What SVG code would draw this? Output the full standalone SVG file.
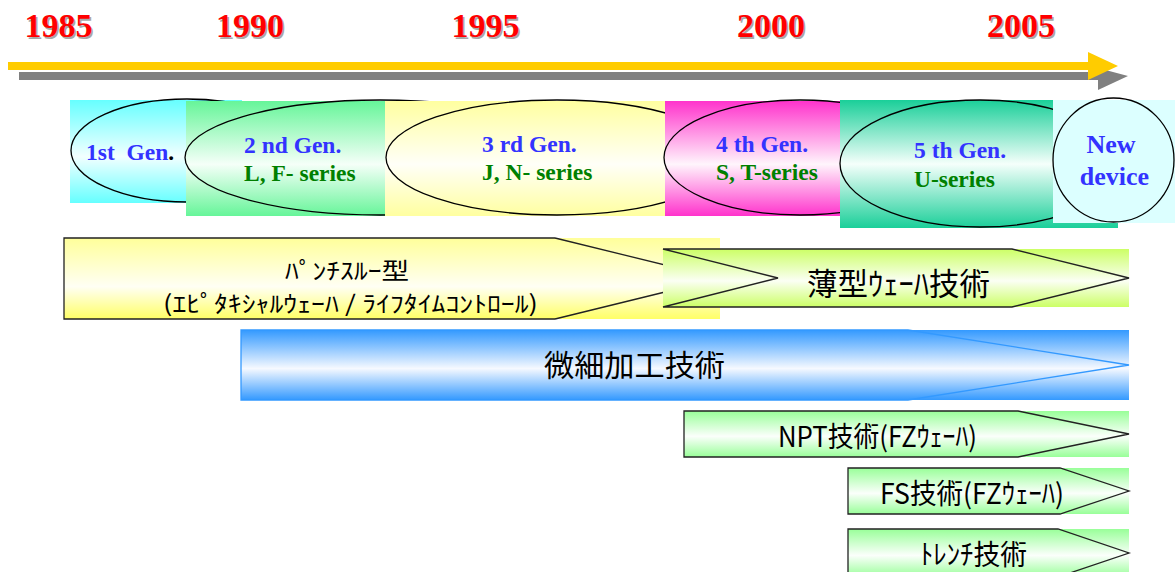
<svg xmlns="http://www.w3.org/2000/svg" width="1175" height="572" viewBox="0 0 1175 572">
<defs>
  <linearGradient id="gCyan" x1="0" y1="0" x2="0" y2="1"><stop offset="0" stop-color="#66ffff"/><stop offset="0.55" stop-color="#f2ffff"/><stop offset="1" stop-color="#66ffff"/></linearGradient>
  <linearGradient id="gGreen" x1="0" y1="0" x2="0" y2="1"><stop offset="0" stop-color="#66f599"/><stop offset="0.55" stop-color="#f5fff8"/><stop offset="1" stop-color="#66f599"/></linearGradient>
  <linearGradient id="gYel" x1="0" y1="0" x2="0" y2="1"><stop offset="0" stop-color="#ffffa0"/><stop offset="0.55" stop-color="#fffff8"/><stop offset="1" stop-color="#ffffa0"/></linearGradient>
  <linearGradient id="gMag" x1="0" y1="0" x2="0" y2="1"><stop offset="0" stop-color="#ff33cc"/><stop offset="0.55" stop-color="#fff5fc"/><stop offset="1" stop-color="#ff33cc"/></linearGradient>
  <linearGradient id="gTeal" x1="0" y1="0" x2="0" y2="1"><stop offset="0" stop-color="#1acf99"/><stop offset="0.5" stop-color="#f5fffb"/><stop offset="1" stop-color="#1acf99"/></linearGradient>
  <linearGradient id="gBarY" x1="0" y1="0" x2="0" y2="1"><stop offset="0" stop-color="#ffff9a"/><stop offset="0.6" stop-color="#fffff4"/><stop offset="1" stop-color="#ffff66"/></linearGradient>
  <linearGradient id="gBarLG" x1="0" y1="0" x2="0" y2="1"><stop offset="0" stop-color="#ccff66"/><stop offset="0.55" stop-color="#fbfff4"/><stop offset="1" stop-color="#ccff66"/></linearGradient>
  <linearGradient id="gBarB" x1="0" y1="0" x2="0" y2="1"><stop offset="0" stop-color="#3399ff"/><stop offset="0.55" stop-color="#f6f9ff"/><stop offset="1" stop-color="#3399ff"/></linearGradient>
  <linearGradient id="gBarG" x1="0" y1="0" x2="0" y2="1"><stop offset="0" stop-color="#99ff99"/><stop offset="0.55" stop-color="#fbfffb"/><stop offset="1" stop-color="#99ff99"/></linearGradient>
</defs>
<style>
  .yr{font-family:"Liberation Serif","Times New Roman",serif;font-weight:bold;font-size:34px;text-anchor:middle}
  .yrs{fill:#a8a8a8}
  .yrt{fill:#ff0000}
  .gen{font-family:"Liberation Serif","Times New Roman",serif;font-weight:bold;font-size:23.5px;white-space:pre}
  .nd{font-family:"Liberation Serif","Times New Roman",serif;font-weight:bold;font-size:26px;text-anchor:middle;fill:#3333ff}
  .blue{fill:#3333ff}
  .grn{fill:#008000}
  .ell{fill:none;stroke:#000;stroke-width:1.3}
  .jp{font-family:"Noto Sans CJK JP","Noto Sans CJK SC",sans-serif;text-anchor:middle;fill:#000}
  .ol{fill:none;stroke:#222;stroke-width:1.3}
  .olb{fill:none;stroke:#3399ff;stroke-width:1.3}
</style>

<g id="years">
  <text class="yr yrs" x="60" y="39">1985</text><text class="yr yrt" x="58.5" y="37">1985</text>
  <text class="yr yrs" x="251.5" y="39">1990</text><text class="yr yrt" x="250" y="37">1990</text>
  <text class="yr yrs" x="487" y="39">1995</text><text class="yr yrt" x="485.5" y="37">1995</text>
  <text class="yr yrs" x="772.5" y="39">2000</text><text class="yr yrt" x="771" y="37">2000</text>
  <text class="yr yrs" x="1022.5" y="39">2005</text><text class="yr yrt" x="1021" y="37">2005</text>
</g>

<g id="timeline">
  <rect x="19" y="72" width="1081" height="8" fill="#808080"/>
  <polygon points="1098,68 1128,76 1098,90" fill="#808080"/>
  <rect x="8" y="62" width="1082" height="8" fill="#ffcc00"/>
  <polygon points="1088,52 1118,66 1088,80" fill="#ffcc00"/>
</g>

<g id="gen1">
  <rect x="70" y="100" width="172" height="103" fill="url(#gCyan)"/>
  <ellipse class="ell" cx="187" cy="150.5" rx="116" ry="51.5"/>
  <text class="gen" x="86" y="160" xml:space="preserve"><tspan class="blue">1st  Gen</tspan><tspan fill="#000">.</tspan></text>
</g>

<g id="gen2">
  <rect x="186" y="101" width="199" height="115" fill="url(#gGreen)"/>
  <ellipse class="ell" cx="380" cy="157.5" rx="195" ry="57.5"/>
  <text class="gen blue" x="244" y="153">2 nd Gen.</text>
  <text class="gen grn" x="244" y="181">L, F- series</text>
</g>

<g id="gen3">
  <rect x="385" y="101" width="280" height="115" fill="url(#gYel)"/>
  <ellipse class="ell" cx="557" cy="157.5" rx="171" ry="57.5"/>
  <text class="gen blue" x="482" y="152">3 rd Gen.</text>
  <text class="gen grn" x="482" y="180">J, N- series</text>
</g>

<g id="gen4">
  <rect x="665" y="101" width="175" height="115" fill="url(#gMag)"/>
  <ellipse class="ell" cx="800" cy="157.5" rx="136" ry="57.5"/>
  <text class="gen blue" x="716" y="152">4 th Gen.</text>
  <text class="gen grn" x="716" y="180">S, T-series</text>
</g>

<g id="gen5">
  <rect x="840" y="100" width="278" height="128" fill="url(#gTeal)"/>
  <ellipse class="ell" cx="980" cy="163.5" rx="140" ry="63.5"/>
  <text class="gen blue" x="914" y="158">5 th Gen.</text>
  <text class="gen grn" x="914" y="187">U-series</text>
</g>

<g id="newdevice">
  <rect x="1053" y="100" width="122" height="123" fill="#dcffff"/>
  <ellipse class="ell" cx="1113.5" cy="160" rx="60.5" ry="62"/>
  <text class="nd" x="1111" y="153">New</text>
  <text class="nd" x="1114.5" y="185">device</text>
</g>

<g id="punchthrough">
  <rect x="64" y="238" width="656" height="81" fill="url(#gBarY)"/>
  <polyline class="ol" points="555,238 64,238 64,319 555,319"/>
  <polyline class="ol" points="555,238 720,278.5 555,319"/>
  <text class="jp" x="347" y="278.5" font-size="23" textLength="124" lengthAdjust="spacingAndGlyphs">ﾊﾟﾝﾁｽﾙｰ型</text>
  <text class="jp" x="350.5" y="312" font-size="23" textLength="375" lengthAdjust="spacingAndGlyphs">(ｴﾋﾟﾀｷｼｬﾙｳｪｰﾊ / ﾗｲﾌﾀｲﾑｺﾝﾄﾛｰﾙ)</text>
</g>

<g id="thinwafer">
  <rect x="663" y="249" width="466" height="58" fill="url(#gBarLG)"/>
  <polygon class="ol" points="663,249 1012,249 1129,278 1012,307 663,307 778,278"/>
  <text class="jp" x="898.5" y="295" font-size="31" textLength="183" lengthAdjust="spacingAndGlyphs">薄型ｳｪｰﾊ技術</text>
</g>

<g id="microfab">
  <rect x="241" y="330" width="888" height="70" fill="url(#gBarB)"/>
  <polygon class="olb" points="241,330 908,330 1129,365 908,400 241,400"/>
  <text class="jp" x="634.5" y="376" font-size="30" textLength="181" lengthAdjust="spacingAndGlyphs">微細加工技術</text>
</g>

<g id="npt">
  <rect x="684" y="411" width="445" height="46" fill="url(#gBarG)"/>
  <polygon class="ol" points="684,411 1018,411 1129,434 1018,457 684,457"/>
  <text class="jp" x="877.5" y="447" font-size="28" textLength="199" lengthAdjust="spacingAndGlyphs">NPT技術(FZｳｪｰﾊ)</text>
</g>

<g id="fs">
  <rect x="848" y="468" width="281" height="46" fill="url(#gBarG)"/>
  <polygon class="ol" points="848,468 1060,468 1129,491 1060,514 848,514"/>
  <text class="jp" x="972" y="504" font-size="28" textLength="184" lengthAdjust="spacingAndGlyphs">FS技術(FZｳｪｰﾊ)</text>
</g>

<g id="trench">
  <rect x="848" y="529" width="281" height="48" fill="url(#gBarG)"/>
  <polygon class="ol" points="848,529 1058,529 1129,553 1058,577 848,577"/>
  <text class="jp" x="973.5" y="565" font-size="28" textLength="107" lengthAdjust="spacingAndGlyphs">ﾄﾚﾝﾁ技術</text>
</g>

<g id="connectors"></g>
</svg>
